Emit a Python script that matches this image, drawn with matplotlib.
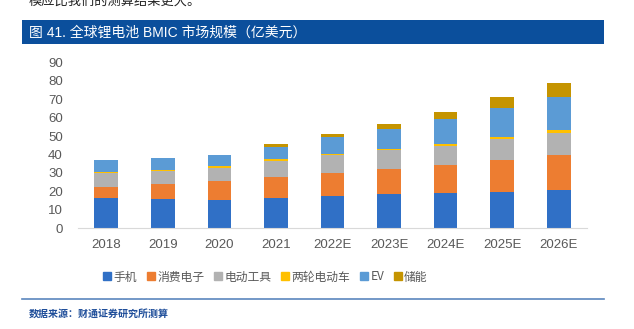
import matplotlib.pyplot as plt
from matplotlib.patches import Rectangle
from matplotlib.lines import Line2D

plt.rcParams['font.family'] = ['Liberation Sans', 'Noto Sans CJK SC', 'DejaVu Sans']

years = ['2018', '2019', '2020', '2021', '2022E', '2023E', '2024E', '2025E', '2026E']
phone = [16.6, 16.1, 15.3, 16.4, 17.7, 18.4, 19.1, 19.8, 20.6]
consumer = [6.0, 7.9, 10.3, 11.4, 12.1, 13.6, 15.2, 17.1, 19.2]
tools = [7.2, 6.9, 7.3, 8.9, 9.8, 10.3, 10.5, 11.4, 12.0]
two_wheel = [0.7, 0.9, 1.0, 0.9, 0.7, 0.9, 1.1, 1.0, 1.3]
ev = [6.4, 6.3, 5.7, 6.7, 9.0, 10.7, 13.4, 15.9, 18.1]
storage = [0.1, 0.1, 0.1, 1.3, 1.8, 2.5, 3.6, 6.0, 7.6]

series = [phone, consumer, tools, two_wheel, ev, storage]
names = ['手机', '消费电子', '电动工具', '两轮电动车', 'EV', '储能']
colors = ['#3070C6', '#ED7D31', '#B2B2B2', '#FFC000', '#5B9BD5', '#C59400']

fig = plt.figure(figsize=(6.34, 3.29), dpi=100)
W, H = 634, 329

# cut-off line of body text at the top
fig.text(29 / W, 1 - 1.5 / H, '模应比我们的测算结果更大。', fontsize=9.5, color='#222222',
         family=['Noto Sans CJK SC'], va='center', ha='left')

# title bar
fig.patches.append(Rectangle((22 / W, 1 - 44 / H), (604 - 22) / W, 24 / H,
                             transform=fig.transFigure, facecolor='#0B4F9C', edgecolor='none'))
fig.text(29 / W, 1 - 32.5 / H, '图 41. 全球锂电池 BMIC 市场规模（亿美元）', fontsize=10,
         color='white', family=['Liberation Sans', 'Noto Sans CJK SC'], va='center', ha='left')

ax = fig.add_axes([78 / W, 1 - 228.3 / H, (587 - 78) / W, (228.3 - 62.3) / H])
x = range(len(years))
bottom = [0] * len(years)
for vals, name, c in zip(series, names, colors):
    ax.bar(x, vals, bottom=bottom, width=0.42, color=c, label=name, edgecolor='none')
    bottom = [b + v for b, v in zip(bottom, vals)]

ax.set_xlim(-0.5, len(years) - 0.5)
ax.set_ylim(0, 90)
ax.set_yticks(range(0, 91, 10))
ax.set_xticks(list(x))
ax.set_xticklabels(years)
for s in ['top', 'right', 'left']:
    ax.spines[s].set_visible(False)
ax.spines['bottom'].set_color('#D9D9D9')
ax.tick_params(axis='both', length=0, labelsize=9.5, colors='#595959')
ax.tick_params(axis='y', pad=11)
ax.tick_params(axis='x', pad=8)

handles = [Line2D([], [], marker='s', linestyle='none', markersize=5.5, color=c) for c in colors]
fig.legend(handles, names, loc='center', bbox_to_anchor=(266 / W, 1 - 277 / H), ncol=6,
           frameon=False, handlelength=0.5, handletextpad=0.3, columnspacing=0.9,
           prop={'family': ['Noto Sans CJK SC'], 'size': 8.5}, labelcolor='#595959')

# separator and source
fig.add_artist(Line2D([22 / W, 604 / W], [1 - 299 / H, 1 - 299 / H],
                      transform=fig.transFigure, color='#5B86BE', linewidth=1.2))
fig.text(29 / W, 1 - 314 / H, '数据来源：财通证券研究所测算', fontsize=7.2, color='#1F4E9A',
         fontweight='bold', family=['Noto Sans CJK SC'], va='center', ha='left')

fig.savefig('out.png', dpi=100)
